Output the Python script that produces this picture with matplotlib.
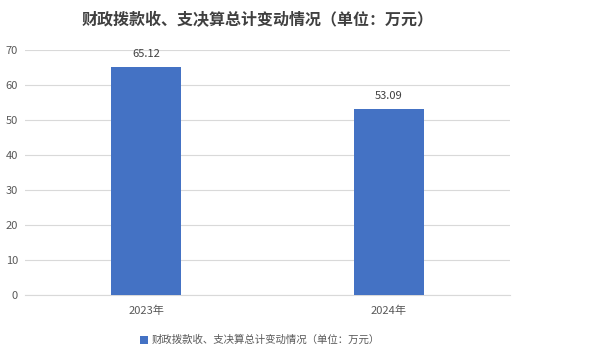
import matplotlib
matplotlib.use("Agg")
import matplotlib.pyplot as plt
import numpy as np

plt.rcParams['font.family'] = ['Noto Sans CJK SC', 'DejaVu Sans']

# data
categories = ["2023年", "2024年"]
values = [65.12, 53.09]
series_name = "财政拨款收、支决算总计变动情况（单位：万元）"
title = "财政拨款收、支决算总计变动情况（单位：万元）"
y_ticks = [0, 10, 20, 30, 40, 50, 60, 70]

BAR_COLOR = "#4472C4"
TEXT_COLOR = "#595959"

fig = plt.figure(figsize=(6.09, 3.58), dpi=100)
ax = fig.add_axes([25 / 609, 1 - 295 / 358, 485 / 609, 245 / 358])

x = np.arange(len(categories))
bars = ax.bar(x, values, width=0.29, color=BAR_COLOR, label=series_name, zorder=3)
for rect, v in zip(bars, values):
    ax.annotate(f"{v:.2f}", (rect.get_x() + rect.get_width() / 2, v),
                xytext=(0, 6), textcoords="offset points",
                ha="center", va="bottom", fontsize=8, color="#404040")

ax.set_xlim(-0.5, len(categories) - 0.5)
ax.set_ylim(0, 70)
ax.set_yticks(y_ticks)
ax.set_xticks(x)
ax.set_xticklabels(categories)
ax.grid(axis="y", color="#d9d9d9", linewidth=0.8, zorder=0)
for side in ["top", "right", "left"]:
    ax.spines[side].set_visible(False)
ax.spines["bottom"].set_color("#d9d9d9")
ax.tick_params(axis="both", length=0, labelsize=8, colors=TEXT_COLOR)
ax.tick_params(axis="y", pad=5)
ax.tick_params(axis="x", pad=8)

fig.text(258 / 609, 1 - 20 / 358, title, ha="center", va="center",
         fontsize=11.5, fontweight="bold", color="#404040")

fig.legend(loc="center", bbox_to_anchor=(260 / 609, 1 - 340 / 358), frameon=False,
           fontsize=7.5, labelcolor=TEXT_COLOR, handlelength=0.8, handleheight=0.8,
           handletextpad=0.3)

fig.savefig("out.png", dpi=100)
